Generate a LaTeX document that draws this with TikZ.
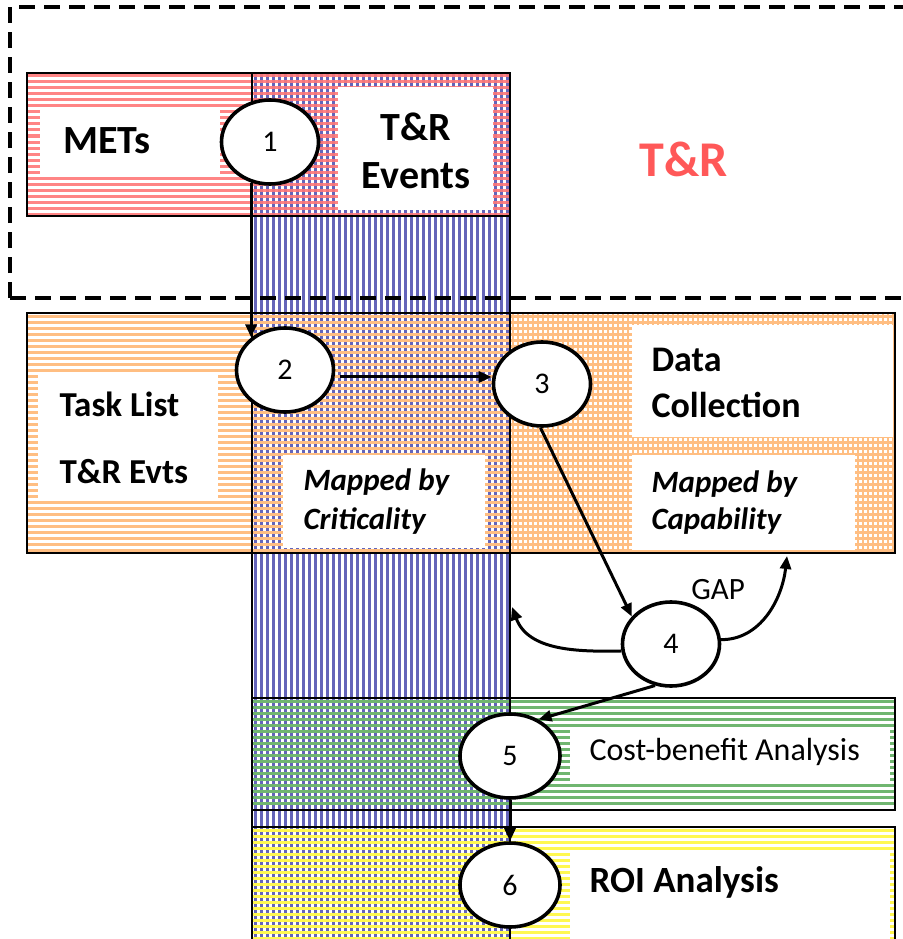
\documentclass[tikz,border=0pt]{standalone}
\usepackage{fontspec}
\setmainfont{Carlito}
\usetikzlibrary{shapes.geometric,arrows.meta}
\definecolor{stripeRed}{RGB}{255,120,120}
\definecolor{stripeBlue}{RGB}{100,100,185}
\definecolor{stripeOrange}{RGB}{255,190,130}
\definecolor{stripeGreen}{RGB}{112,182,112}
\definecolor{stripeYellow}{RGB}{255,248,80}
\definecolor{labelRed}{RGB}{255,88,88}

\begin{document}
\begin{tikzpicture}[x=1pt,y=-1pt,
  stepcircle/.style={ellipse,draw,line width=3.6pt,fill=white,inner sep=0pt,
    minimum width=97pt,minimum height=84pt,font=\fontsize{30}{30}\selectfont},
  arr/.style={line width=3pt,-{Triangle[length=13pt,width=11pt]}},
  outline/.style={draw,line width=2.8pt},
  labelbox/.style={fill=white,draw=none},
  boldtxt/.style={font=\bfseries\fontsize{#1}{#1}\selectfont},
  itbtxt/.style={font=\bfseries\itshape\fontsize{#1}{#1}\selectfont},
  plaintxt/.style={font=\fontsize{#1}{#1}\selectfont},
]
\useasboundingbox (0,0) rectangle (902,939);
\fill[white] (0,0) rectangle (902,939);

% ---- hatched areas ----
% blue column
\foreach \xx in {255,261,...,508}
  \draw[stripeBlue,line width=3pt] (\xx,73) -- (\xx,945);
% red band (METs / T&R Events)
\foreach \yy in {76,82,...,214}
  \draw[stripeRed,line width=3pt,opacity=0.9] (27,\yy) -- (510,\yy);
% orange band
\foreach \yy in {316,322,...,551}
  \draw[stripeOrange,line width=3pt] (27,\yy) -- (895,\yy);
\foreach \xx in {513,518,...,893}
  \draw[stripeOrange,line width=2.2pt] (\xx,313) -- (\xx,553);
% green band
\foreach \yy in {701,707,...,808}
  \draw[stripeGreen,line width=3pt] (252,\yy) -- (895,\yy);
% yellow band
\foreach \yy in {830,836,...,942}
  \draw[stripeYellow,line width=3pt] (252,\yy) -- (895,\yy);

% ---- white label panels ----
\fill[labelbox] (40,107) rectangle (220,175);
\fill[labelbox] (338,87) rectangle (493,210);
\fill[labelbox] (38,372) rectangle (218,500);
\fill[labelbox] (283,455) rectangle (485,548);
\fill[labelbox] (632,325) rectangle (893,437);
\fill[labelbox] (632,455) rectangle (855,550);
\fill[labelbox] (570,727) rectangle (890,782);
\fill[labelbox] (570,850) rectangle (890,945);

% ---- outlines ----
\draw[outline] (27,73) rectangle (510,216);
\draw[outline] (252,73) rectangle (510,945);
\draw[outline] (27,313) rectangle (895,553);
\draw[outline] (252,698) rectangle (895,810);
\draw[outline] (252,827) rectangle (895,945);
\draw[line width=3.4pt,dash pattern=on 16pt off 9pt] (10,298) -- (10,7) -- (906,7)
  (10,298) -- (906,298);

% ---- texts ----
\node[boldtxt=40] (mets) at (107,141) {METs};
\node[boldtxt=40,align=center] (trev) at (416,151) {T\&R\\[8pt]Events};
\node[boldtxt=50,text=labelRed] (tr) at (684,159) {T\&R};
\node[boldtxt=35,anchor=west] (task) at (56,404) {Task List};
\node[boldtxt=35,anchor=west] (evts) at (56,472) {T\&R Evts};
\node[itbtxt=31,anchor=west] (crit1) at (300,482) {Mapped by};
\node[itbtxt=31,anchor=west] (crit2) at (300,521) {Criticality};
\node[boldtxt=36,anchor=west] (data1) at (648,360) {Data};
\node[boldtxt=36,anchor=west] (data2) at (648,405) {Collection};
\node[itbtxt=31,anchor=west] (cap1) at (648,484) {Mapped by};
\node[itbtxt=31,anchor=west] (cap2) at (648,521) {Capability};
\node[plaintxt=32,anchor=west] (cba) at (586,752) {Cost-benefit Analysis};
\node[boldtxt=37,anchor=west] (roi) at (586,882) {ROI Analysis};
\node[plaintxt=31] (gap) at (718,590) {GAP};

% ---- numbered steps ----
\node[stepcircle] (c1) at (270,142) {1};
\node[stepcircle] (c2) at (285,370) {2};
\node[stepcircle] (c3) at (542,384) {3};
\node[stepcircle] (c4) at (671,644) {4};
\node[stepcircle,minimum width=100pt] (c5) at (510,756) {5};
\node[stepcircle,minimum width=100pt] (c6) at (510,885) {6};

% ---- connectors ----
\coordinate (gapL) at (512,607);
\coordinate (gapR) at (787,556);
\draw[arr] (c1.-115) -- (c1.-115 |- c2.136);
\draw[arr] ([xshift=5pt]c2.-8) -- (c2.-8 -| c3.west);
\draw[arr] (c3.-92) -- (c4.145);
\draw[arr] (c4.188) .. controls (575,652) and (528,650) .. (gapL);
\draw[arr] (c4.5) .. controls (760,640) and (782,600) .. (gapR);
\draw[arr] (c4.-111) -- (c5.52);
\draw[arr] (c5.south) -- (c6.north);
\end{tikzpicture}
\end{document}
